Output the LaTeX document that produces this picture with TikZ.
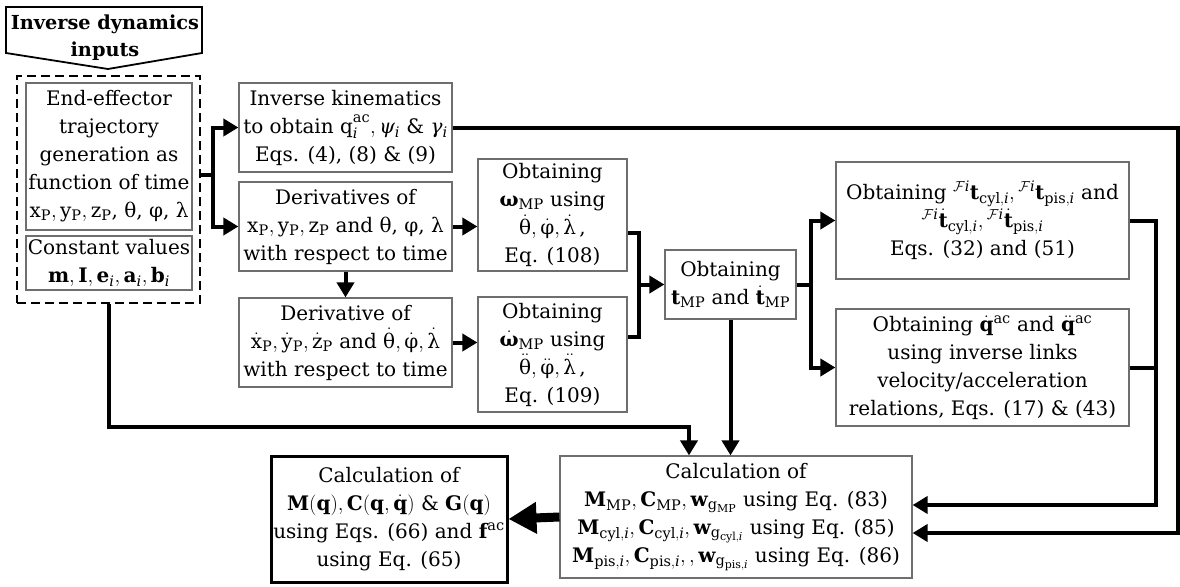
\documentclass[tikz,border=0pt]{standalone}
\usepackage{amsmath}
\usepackage{fontspec}
\setmainfont{DejaVu Serif}
\usetikzlibrary{arrows.meta,calc}
\definecolor{boxgray}{RGB}{110,110,110}
\DeclareMathSizes{20}{20}{14.5}{11}
\newcommand{\msz}{\fontsize{20}{28}\selectfont}
\newcommand{\tsz}{\fontsize{19.3}{27}\selectfont}
\newcommand{\ii}{\mathit{i}}
\newcommand{\Fi}{{}^{\mathcal{F}\ii}}
\tikzset{
  gbox/.style={draw=boxgray, line width=1.2pt, align=center, inner sep=0pt, font=\msz},
  conn/.style={line width=4pt, black},
  arr/.style={conn, -{Triangle[length=15pt,width=17pt]}},
}
\begin{document}
\begin{tikzpicture}[x=1pt,y=-1pt]
\path[fill=white, use as bounding box] (0,0) rectangle (1180,586);

% title pentagon
\draw[line width=1.8pt] (6,7) -- (202,7) -- (202,53) -- (108,69) -- (6,53) -- cycle;
\node[font=\tsz\bfseries, align=center] (title) at (105,38) {Inverse dynamics\\inputs};

% inputs group
\node[draw, line width=2.5pt, dash pattern=on 9pt off 5pt, minimum width=183pt, minimum height=227pt, inner sep=0pt] (inp) at (108.5,189.5) {};
\node[gbox, minimum width=166pt, minimum height=147pt] (ee) at (109,156.5)
  {End-effector\\trajectory\\generation as\\function of time\\$\mathrm{x_P}, \mathrm{y_P}, \mathrm{z_P}$, θ, φ, λ};
\node[gbox, minimum width=166pt, minimum height=54pt] (cv) at (109,263)
  {Constant values\\$\mathbf{m}, \mathbf{I}, \mathbf{e}_{\ii}, \mathbf{a}_{\ii}, \mathbf{b}_{\ii}$};

% second column
\node[gbox, minimum width=213pt, minimum height=89pt] (ik) at (345.5,127.5)
  {Inverse kinematics\\to obtain $\mathrm{q}_{\ii}^{\mathrm{ac}}, \textit{ψ}_{\ii}$ \& $\textit{γ}_{\ii}$\\Eqs. (4), (8) \& (9)};
\node[gbox, minimum width=213pt, minimum height=89pt] (der) at (345.5,226.5)
  {Derivatives of\\$\mathrm{x_P}, \mathrm{y_P}, \mathrm{z_P}$ and θ, φ, λ\\with respect to time};
\node[gbox, minimum width=213pt, minimum height=89pt] (der2) at (345.5,342.5)
  {Derivative of\\$\dot{\mathrm{x}}_{\mathrm{P}}, \dot{\mathrm{y}}_{\mathrm{P}}, \dot{\mathrm{z}}_{\mathrm{P}}$ and $\dot{\text{θ}}, \dot{\text{φ}}, \dot{\text{λ}}$\\with respect to time};

% omega boxes
\node[gbox, minimum width=149pt, minimum height=112pt] (w1) at (552.5,215)
  {Obtaining\\$\textbf{ω}_{\mathrm{MP}}$ using\\$\dot{\text{θ}}, \dot{\text{φ}}, \dot{\text{λ}}$\,,\\Eq. (108)};
\node[gbox, minimum width=149pt, minimum height=115pt] (w2) at (552.5,354.5)
  {Obtaining\\$\dot{\textbf{ω}}_{\mathrm{MP}}$ using\\$\ddot{\text{θ}}, \ddot{\text{φ}}, \ddot{\text{λ}}$\,,\\Eq. (109)};

% twist box
\node[gbox, minimum width=131pt, minimum height=69pt] (t) at (730.5,284.5)
  {Obtaining\\$\mathbf{t}_{\mathrm{MP}}$ and $\dot{\mathbf{t}}_{\mathrm{MP}}$};

% right boxes
\node[gbox, minimum width=293pt, minimum height=117pt] (fi) at (982.5,220.5)
  {Obtaining $\Fi\mathbf{t}_{\mathrm{cyl},\ii}, \Fi\mathbf{t}_{\mathrm{pis},\ii}$ and\\$\Fi\dot{\mathbf{t}}_{\mathrm{cyl},\ii}, \Fi\dot{\mathbf{t}}_{\mathrm{pis},\ii}$\\Eqs. (32) and (51)};
\node[gbox, minimum width=293pt, minimum height=117pt] (qq) at (982.5,367.5)
  {Obtaining $\dot{\mathbf{q}}^{\mathrm{ac}}$ and $\ddot{\mathbf{q}}^{\mathrm{ac}}$\\using inverse links\\velocity/acceleration\\relations, Eqs. (17) \& (43)};

% bottom boxes
\node[gbox, minimum width=352pt, minimum height=122pt] (calc) at (736,517)
  {Calculation of\\
   $\mathbf{M}_{\mathrm{MP}}, \mathbf{C}_{\mathrm{MP}}, \mathbf{w}_{\mathrm{g}_{\mathrm{MP}}}$ using Eq. (83)\\
   $\mathbf{M}_{\mathrm{cyl},\ii}, \mathbf{C}_{\mathrm{cyl},\ii}, \mathbf{w}_{\mathrm{g}_{\mathrm{cyl},\ii}}$ using Eq. (85)\\
   $\mathbf{M}_{\mathrm{pis},\ii}, \mathbf{C}_{\mathrm{pis},\ii}, , \mathbf{w}_{\mathrm{g}_{\mathrm{pis},\ii}}$ using Eq. (86)};
\node[gbox, draw=black, line width=3pt, minimum width=236pt, minimum height=126pt] (fin) at (389,519)
  {Calculation of\\$\mathbf{M}(\mathbf{q}), \mathbf{C}(\mathbf{q}, \dot{\mathbf{q}})$ \& $\mathbf{G}(\mathbf{q})$\\using Eqs. (66) and $\mathbf{f}^{\mathrm{ac}}$\\using Eq. (65)};

% connectors
\draw[conn] ($(inp.east)+(0,-14.5)$) -- ++(12,0) coordinate (b1);
\draw[arr] (b1) |- (ik.west);
\draw[arr] (b1) |- (der.west);

\draw[arr] (der.east) -- (der.east -| w1.west);
\draw[arr] (der2.east) -- (der2.east -| w2.west);
\draw[arr] (der.south) -- (der2.north);

\coordinate (b3) at ($(t.west)+(-25,0)$);
\draw[conn] ($(w1.east)+(0,18)$) -| (b3) |- ($(w2.east)+(0,-17.5)$);
\draw[arr] (b3) -- (t.west);

\draw[conn] (t.east) -- ++(14,0) coordinate (b2);
\draw[arr] (b2) |- (fi.west);
\draw[arr] (b2) |- (qq.west);

\draw[arr] (ik.east) -- ++(725,0) |- ($(calc.east)+(0,16)$);
\draw[arr] (fi.east) -- ++(26,0) coordinate (r1) |- ($(calc.east)+(0,-12)$);
\draw[conn] (qq.east) -- (qq.east -| r1);

\draw[arr] (t.south) -- (t.south |- calc.north);
\draw[arr] (inp.south) |- ($(calc.north)+(-47,-28)$) -- ($(calc.north)+(-47,0)$);

\draw[line width=9pt, -{Triangle[length=28pt,width=30pt]}] (calc.west) -- (fin.east);
\end{tikzpicture}
\end{document}
